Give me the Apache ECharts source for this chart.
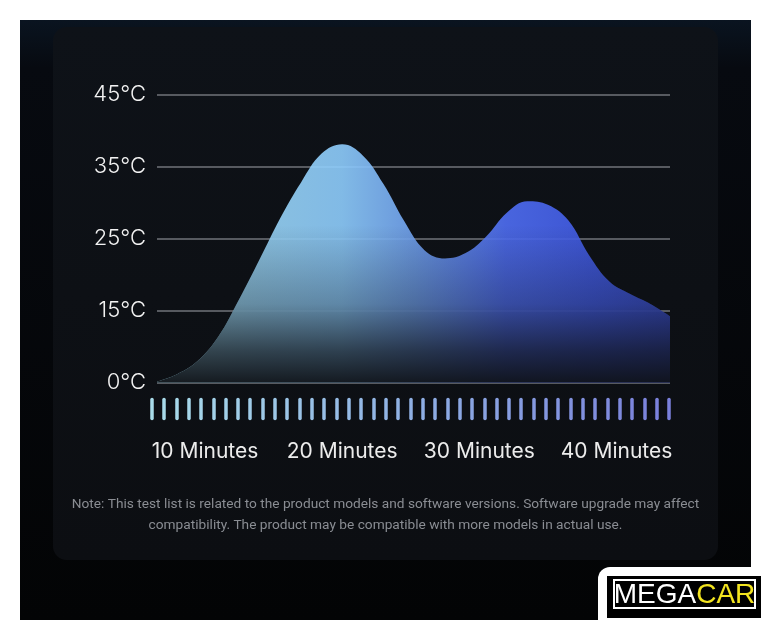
<!DOCTYPE html>
<html>
<head>
<meta charset="utf-8">
<script src="https://cdn.jsdelivr.net/npm/echarts@6/dist/echarts.min.js"></script>
<style>
  html, body { margin: 0; padding: 0; background: #ffffff; }
  #chart { width: 771px; height: 640px; }
</style>
</head>
<body>
<div id="chart"></div>
<script>
// ---- data ----
const yTickTemps = [0, 15, 25, 35, 45];
const yTickLabels = ['0℃', '15℃', '25℃', '35℃', '45℃'];
const xLabelMinutes = [10, 20, 30, 40];
const xLabelSuffix = ' Minutes';
const minutes = [6.5, 8, 9.5, 11, 12.5, 14, 15.5, 17, 18.5, 20, 21.5, 23, 24.5, 26, 27.5, 29, 30.5, 32, 33.5, 35, 36.5, 38, 39.5, 41, 42.5, 43.9];
const temps   = [0.2, 1.8, 4.6, 9.7, 16.6, 22.2, 27.9, 32.8, 36.8, 38.1, 36.55, 32.6, 27.5, 23.4, 22.25, 23.0, 25.3, 28.6, 30.2, 29.7, 27.5, 22.7, 19.0, 17.3, 15.9, 13.85];
const tickMarkCount = 43;
const noteText = 'Note: This test list is related to the product models and software versions. Software upgrade may affect\ncompatibility. The product may be compatible with more models in actual use.';

// y axis has equally spaced ticks for unequal temperatures: map piecewise
function toLevel(t) {
  for (let i = 1; i < yTickTemps.length; i++) {
    if (t <= yTickTemps[i]) {
      return (i - 1) + (t - yTickTemps[i - 1]) / (yTickTemps[i] - yTickTemps[i - 1]);
    }
  }
  return yTickTemps.length - 1;
}
const seriesData = minutes.map((m, i) => [m, toLevel(temps[i])]);
const tickCats = [];
for (let i = 0; i < tickMarkCount; i++) tickCats.push(String(i));

const chart = echarts.init(document.getElementById('chart'), null, { renderer: 'canvas' });

const option = {
  backgroundColor: '#ffffff',
  animation: false,
  graphic: [
    { type: 'rect', z: -10, shape: { x: 20, y: 20, width: 731, height: 600 },
      style: { fill: { type: 'linear', x: 0, y: 0, x2: 0, y2: 1, colorStops: [
        { offset: 0, color: '#0a1420' }, { offset: 0.08, color: '#070a10' }, { offset: 1, color: '#030405' } ] } } },
    { type: 'rect', z: -9, shape: { x: 53, y: 27, width: 665, height: 533, r: 14 },
      style: { fill: { type: 'linear', x: 0, y: 0, x2: 0, y2: 1, colorStops: [
        { offset: 0, color: '#0e1218' }, { offset: 1, color: '#0c0e12' } ] } } },
    { type: 'text', z: 5, x: 385.5, y: 494,
      style: { text: noteText, fill: '#8a8d93', font: '13.7px Roboto', textAlign: 'center', lineHeight: 21 } },
    { type: 'rect', z: 5, shape: { x: 598, y: 567, width: 200, height: 100, r: 12 }, style: { fill: '#ffffff' } },
    { type: 'rect', z: 6, shape: { x: 607, y: 576, width: 154, height: 42 }, style: { fill: '#000000' } },
    { type: 'rect', z: 7, shape: { x: 614, y: 580, width: 141, height: 28 }, style: { fill: 'none', stroke: '#ffffff', lineWidth: 2 } },
    { type: 'text', z: 8, x: 684.5, y: 595,
      style: { text: '{w|MEGA}{y|CAR}', textAlign: 'center', textVerticalAlign: 'middle',
        rich: { w: { fill: '#ffffff', font: '28px "Liberation Sans"' }, y: { fill: '#f3e41f', font: '28px "Liberation Sans"' } } } }
  ],
  grid: [
    { left: 157, right: 101, top: 94.5, bottom: 257.3 },
    { left: 151.7, width: 517.3, top: 380, height: 19.5 }
  ],
  xAxis: [
    { type: 'value', gridIndex: 0, min: 6.5, max: 43.9,
      axisLine: { show: false }, axisTick: { show: false }, splitLine: { show: false },
      axisLabel: { customValues: xLabelMinutes, formatter: v => v + xLabelSuffix, margin: 58,
        color: '#ececec', fontSize: 21, fontFamily: 'Inter', fontWeight: 400 } },
    { type: 'category', gridIndex: 1, data: tickCats, boundaryGap: false,
      axisLine: { show: false }, axisLabel: { show: false }, splitLine: { show: false },
      axisTick: { show: true, interval: 0, length: 19,
        lineStyle: { width: 3.5, cap: 'round', color: { type: 'linear', global: true, x: 152, y: 0, x2: 669, y2: 0,
          colorStops: [ { offset: 0, color: '#a9dcea' }, { offset: 0.5, color: '#8fb0e4' }, { offset: 1, color: '#7a80dc' } ] } } } }
  ],
  yAxis: [
    { type: 'value', gridIndex: 0, min: 0, max: yTickTemps.length - 1, interval: 1,
      axisLine: { show: false }, axisTick: { show: false },
      axisLabel: { formatter: v => yTickLabels[v], margin: 11, color: '#f2f2f2', fontSize: 22, fontFamily: 'Inter', fontWeight: 300 },
      splitLine: { show: true, lineStyle: { color: '#575a60', width: 2 } } },
    { type: 'value', gridIndex: 1, show: false }
  ],
  series: [
    { type: 'line', xAxisIndex: 0, yAxisIndex: 0, data: seriesData, smooth: 0.4, symbol: 'none',
      lineStyle: { width: 0 }, z: 2,
      areaStyle: { opacity: 0.9, color: { type: 'linear', global: true, x: 157, y: 0, x2: 670, y2: 0, colorStops: [
        { offset: 0, color: '#a8e2f2' }, { offset: 0.2, color: '#98d4f6' }, { offset: 0.36, color: '#8ecdfd' },
        { offset: 0.5, color: '#72a4f2' }, { offset: 0.68, color: '#4f6ef4' }, { offset: 0.85, color: '#425ce8' },
        { offset: 1, color: '#3a4fd0' } ] } } },
    { type: 'line', xAxisIndex: 0, yAxisIndex: 0, data: seriesData, smooth: 0.4, symbol: 'none',
      lineStyle: { width: 0 }, z: 3, silent: true,
      areaStyle: { opacity: 1, color: { type: 'linear', global: true, x: 0, y: 225, x2: 0, y2: 383, colorStops: [
        { offset: 0, color: 'rgba(14,17,22,0)' }, { offset: 0.5, color: 'rgba(14,17,22,0.3)' },
        { offset: 0.8, color: 'rgba(14,17,22,0.72)' }, { offset: 1, color: 'rgba(14,17,22,0.95)' } ] } } }
  ]
};
chart.setOption(option);
</script>
</body>
</html>
